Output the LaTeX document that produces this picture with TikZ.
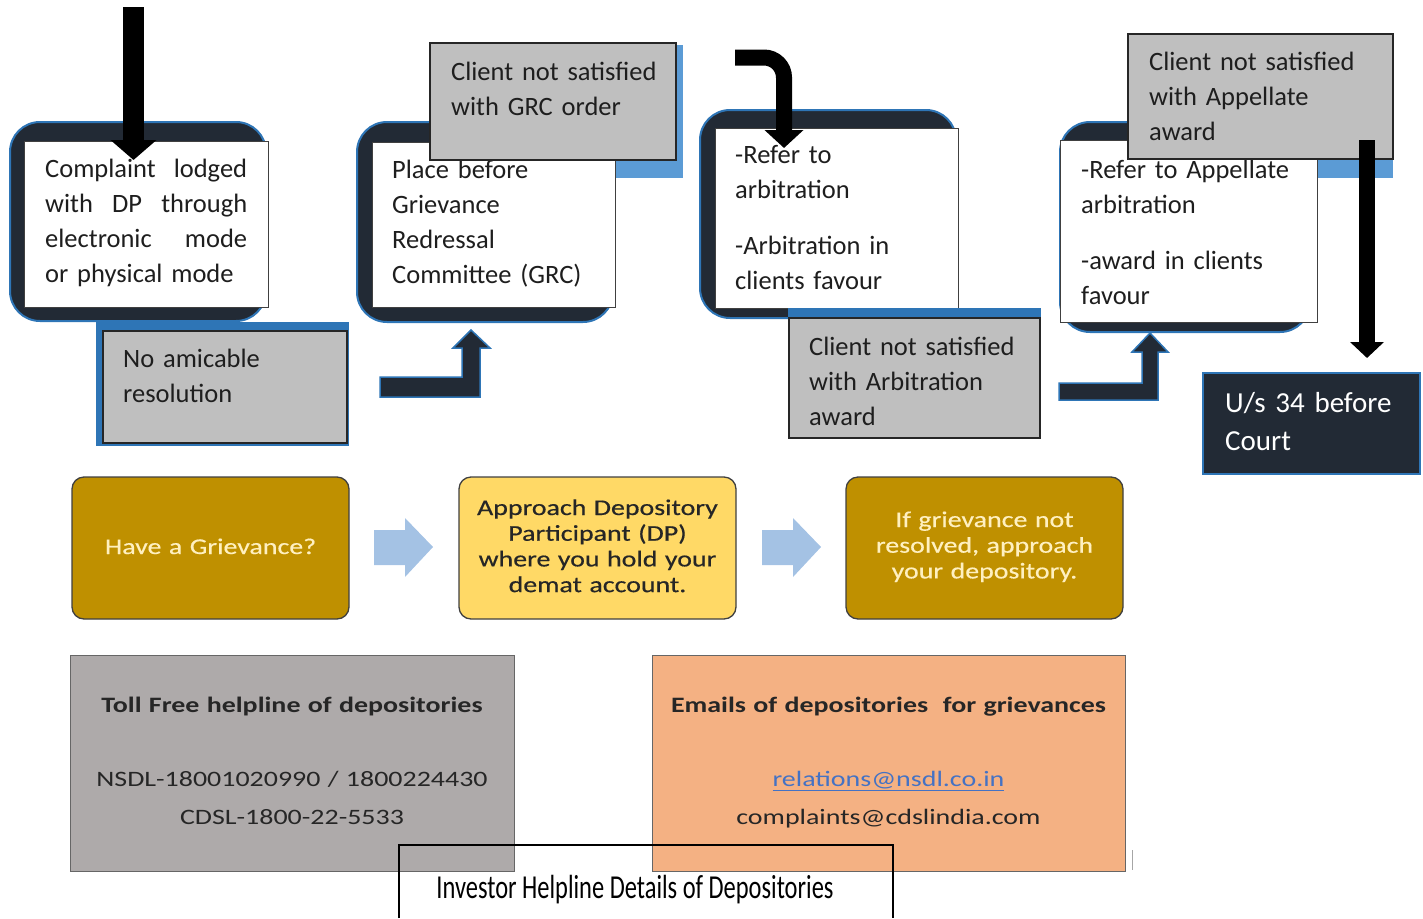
\documentclass[tikz,border=0pt]{standalone}
\usepackage{fontspec}
\usepackage{graphicx}
\setmainfont{Carlito}
\newfontfamily\widefont[FakeStretch=1.24,FakeBold=0.5]{Carlito}
\newfontfamily\botfont[FakeStretch=1.27]{Carlito}
\newfontfamily\narrowfont[FakeStretch=0.73]{Carlito}
\usetikzlibrary{arrows.meta}
\definecolor{navy}{HTML}{222A35}
\definecolor{edgeblue}{HTML}{2E75B6}
\definecolor{lightblue}{HTML}{5B9BD5}
\definecolor{boxgray}{HTML}{BFBFBF}
\definecolor{gold}{HTML}{BF9000}
\definecolor{paleyellow}{HTML}{FFD966}
\definecolor{goldtext}{HTML}{FFF0C0}
\definecolor{blockarrow}{HTML}{A4C2E4}
\definecolor{botgray}{HTML}{AEAAAA}
\definecolor{botorange}{HTML}{F4B183}
\definecolor{linkblue}{HTML}{4472C4}
\definecolor{darktext}{HTML}{1E1E1E}
\begin{document}
\begin{tikzpicture}[x=1pt,y=-1pt,
  box/.style={anchor=north west, inner sep=0pt, outer sep=0pt},
  darkround/.style={box, fill=navy, draw=edgeblue, line width=2pt, rounded corners=30pt},
  whitebox/.style={box, fill=white, draw=black!75, line width=1pt},
  bluebox/.style={box, fill=edgeblue, draw=none},
  lbluebox/.style={box, fill=lightblue, draw=none},
  graybox/.style={box, fill=boxgray, draw=black!85, line width=1.2pt},
  midbox/.style={box, draw=black!75, line width=1.3pt, rounded corners=12pt},
  botbox/.style={box, draw=black!60, line width=1pt},
  toptxt/.style={anchor=base west, inner sep=0pt, text width=260pt, align=left,
     text=darktext, font=\fontsize{26.5}{35}\selectfont},
  midtxt/.style={anchor=base, inner sep=0pt, text width=270pt, align=center,
     font=\widefont\fontsize{22.5}{25.7}\selectfont},
  bottxt/.style={anchor=base, inner sep=0pt, text width=460pt, align=center,
     text=black!85, font=\botfont\fontsize{22}{26}\selectfont},
  bentarrow/.style={fill=navy, draw=edgeblue, line width=1.5pt},
  blockarr/.style={fill=blockarrow, draw=none},
  blackarrow/.style={draw=black, line cap=butt}
]
\useasboundingbox (0,0) rectangle (1423,918);

% ---------- back layers (blue shadows) ----------
\node[lbluebox, minimum width=243pt, minimum height=133pt] (shB) at (440,45) {};
\node[lbluebox, minimum width=258pt, minimum height=138pt] (shD) at (1135,40) {};

% ---------- step 1 ----------
\node[darkround, minimum width=256pt, minimum height=199pt] (d1) at (10,122) {};
\node[whitebox, minimum width=244pt, minimum height=166pt] (w1) at (24,141) {};
\node[toptxt] (t1) at (45,177) {\makebox[202pt][l]{Complaint\hfill lodged}\\
  \makebox[202pt][l]{with\hfill DP\hfill through}\\
  \makebox[202pt][l]{electronic\hfill mode}\\
  or physical mode};
\node[bluebox, minimum width=253pt, minimum height=124pt] (shA) at (96,322) {};
\node[graybox, minimum width=244pt, minimum height=112pt] (gA) at (103,331) {};
\node[toptxt] (tA) at (123,367) {No amicable\\resolution};

% ---------- step 2 ----------
\node[darkround, minimum width=256pt, minimum height=200pt] (d2) at (357,122) {};
\node[whitebox, minimum width=243pt, minimum height=165pt] (w2) at (372,142) {};
\node[toptxt] (t2) at (392,178) {Place before\\Grievance\\Redressal\\Committee (GRC)};
\node[graybox, minimum width=246pt, minimum height=117pt] (gB) at (430,43) {};
\node[toptxt] (tB) at (451,80) {Client not satisfied\\with GRC order};

% ---------- step 3 ----------
\node[darkround, minimum width=256pt, minimum height=208pt] (d3) at (700,110) {};
\node[whitebox, minimum width=243pt, minimum height=180pt] (w3) at (715,128) {};
\node[toptxt] (t3) at (735,163) {-Refer to\\arbitration\\[21pt]-Arbitration in\\clients favour};
\node[bluebox, minimum width=253pt, minimum height=128pt] (shC) at (788,308) {};
\node[graybox, minimum width=251pt, minimum height=120pt] (gC) at (789,318) {};
\node[toptxt] (tC) at (809,355) {Client not satisfied\\with Arbitration\\award};

% ---------- step 4 ----------
\node[darkround, minimum width=250pt, minimum height=210pt] (d4) at (1060,122) {};
\node[whitebox, minimum width=257pt, minimum height=182pt] (w4) at (1060,140) {};
\node[toptxt] (t4) at (1081,178) {-Refer to Appellate\\arbitration\\[21pt]-award in clients\\favour};
\node[graybox, minimum width=265pt, minimum height=125pt] (gD) at (1128,34) {};
\node[toptxt] (tD) at (1149,70) {Client not satisfied\\with Appellate\\award};

% ---------- court ----------
\node[box, fill=navy, draw=edgeblue, line width=2pt, minimum width=217pt, minimum height=101pt] (court) at (1203,373) {};
\node[anchor=base west, inner sep=0pt, text width=190pt, align=left, text=white,
  font=\fontsize{29}{38}\selectfont] (tcourt) at (1225,412) {U/s 34 before\\Court};

% ---------- bent block arrows ----------
\path[bentarrow] (380,377) -- (462,377) -- (462,348) -- (453,348) -- (471,330)
  -- (490,348) -- (480,348) -- (480,397) -- (380,397) -- cycle;
\path[bentarrow] (1059,383) -- (1142,383) -- (1142,352) -- (1132,352) -- (1150,333)
  -- (1168,352) -- (1158,352) -- (1158,400) -- (1059,400) -- cycle;

% ---------- black arrows ----------
\coordinate (a1s) at (133.5,7);
\coordinate (a1e) at (133.5,160);
\draw[blackarrow, line width=21pt, -{Triangle[width=45pt,length=20pt]}] (a1s) -- (a1e);
\coordinate (a3s) at (735,57.5);
\coordinate (a3e) at (784,148);
\draw[blackarrow, line width=16pt, rounded corners=20pt, -{Triangle[width=38pt,length=18pt]}] (a3s) -| (a3e);
\coordinate (a4s) at (1367,140);
\coordinate (a4e) at (1367,358);
\draw[blackarrow, line width=16pt, -{Triangle[width=33pt,length=16pt]}] (a4s) -- (a4e);

% ---------- middle row ----------
\node[midbox, fill=gold, minimum width=277pt, minimum height=142pt] (mA) at (72,477) {};
\node[midtxt, text=goldtext] (tmA) at (210.5,554) {Have a Grievance?};
\node[midbox, fill=paleyellow, minimum width=277pt, minimum height=142pt] (mB) at (459,477) {};
\node[midtxt, text=black!85] (tmB) at (597.5,515) {Approach Depository\\Participant (DP)\\where you hold your\\demat account.};
\node[midbox, fill=gold, minimum width=277pt, minimum height=142pt] (mC) at (846,477) {};
\node[midtxt, text=goldtext] (tmC) at (984.5,527) {If grievance not\\resolved, approach\\your depository.};
\path[blockarr] (374,530) -- (405,530) -- (405,518) -- (433,547) -- (405,577) -- (405,565) -- (374,565) -- cycle;
\path[blockarr] (762,530) -- (793,530) -- (793,518) -- (821,547) -- (793,577) -- (793,565) -- (762,565) -- cycle;

% ---------- bottom row ----------
\node[botbox, fill=botgray, minimum width=444pt, minimum height=216pt] (bG) at (70,655) {};
\node[bottxt] (tbG) at (292,712) {\textbf{Toll Free helpline of depositories}\\[48pt]
  NSDL-18001020990 / 1800224430\\[12pt] CDSL-1800-22-5533};
\node[botbox, fill=botorange, minimum width=473pt, minimum height=216pt] (bO) at (652,655) {};
\node[bottxt] (tbO) at (888.5,712) {\textbf{Emails of depositories\ \ for grievances}\\[48pt]
  {\color{linkblue}\underline{relations@nsdl.co.in}}\\[12pt] complaints@cdslindia.com};
\coordinate (tick1) at (1132,850);
\coordinate (tick2) at (1132,870);
\draw[black!35, line width=1pt] (tick1) -- (tick2);

% ---------- caption ----------
\coordinate (c1) at (399,918);
\coordinate (c2) at (399,845);
\coordinate (c3) at (893,845);
\coordinate (c4) at (893,918);
\draw[black, line width=1.5pt] (c1) -- (c2) -- (c3) -- (c4);
\node[anchor=base, inner sep=0pt, font=\narrowfont\fontsize{33.5}{40}\selectfont] (cap) at (635,898) {Investor Helpline Details of Depositories};
\end{tikzpicture}
\end{document}
